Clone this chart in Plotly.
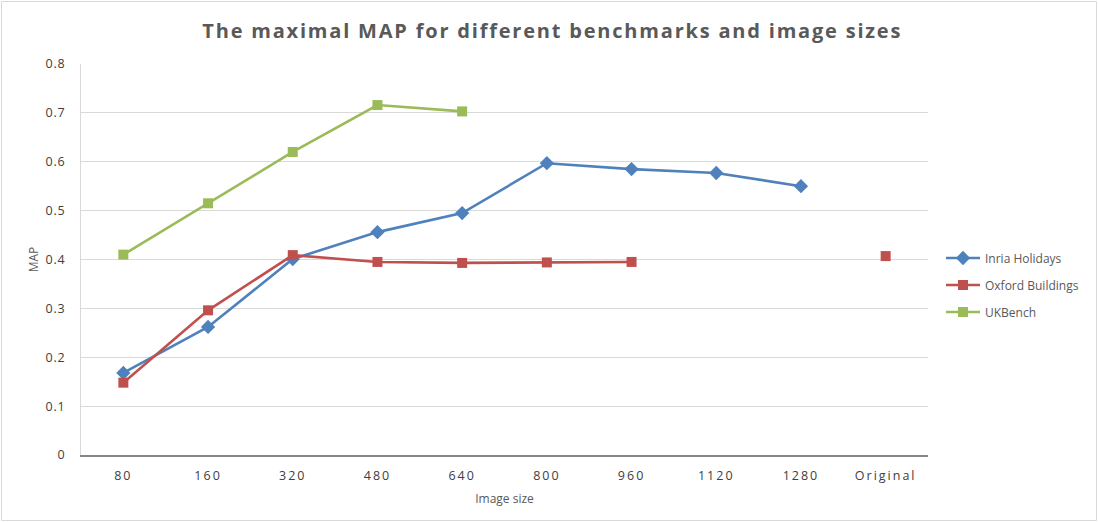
import plotly.graph_objects as go

# Image sizes (category axis) and the maximal MAP for each benchmark
image_sizes = ["80", "160", "320", "480", "640", "800", "960", "1120", "1280", "Original"]
inria_holidays = [0.168, 0.262, 0.401, 0.456, 0.495, 0.597, 0.585, 0.577, 0.550, None]
oxford_buildings = [0.148, 0.296, 0.409, 0.395, 0.393, 0.394, 0.395, None, None, 0.407]
ukbench = [0.410, 0.515, 0.620, 0.716, 0.703, None, None, None, None, None]
y_ticks = [0, 0.1, 0.2, 0.3, 0.4, 0.5, 0.6, 0.7, 0.8]

W, H = 1098, 522
L, R, T, B = 81, 170, 64, 67
pw, ph = W - L - R, H - T - B

text_col = "#595959"
font_main = "Open Sans"

fig = go.Figure()

series = [
    ("Inria Holidays", inria_holidays, "#4F81BD", "diamond", 11),
    ("Oxford Buildings", oxford_buildings, "#C0504D", "square", 10),
    ("UKBench", ukbench, "#9BBB59", "square", 10),
]
for name, vals, col, sym, ms in series:
    fig.add_trace(go.Scatter(
        x=image_sizes, y=vals, name=name, legendgroup=name, mode="lines+markers",
        line=dict(color=col, width=2.6),
        marker=dict(symbol=sym, size=ms, color=col),
        connectgaps=False,
    ))

# light outer frame around the whole chart
fig.add_shape(
    type="rect", xref="paper", yref="paper",
    x0=(1.5 - L) / pw, x1=(W - 1.5 - L) / pw,
    y0=-(H - 1.5 - T - ph) / ph, y1=(T - 1.5) / ph + 1,
    line=dict(color="#D9D9D9", width=1), layer="below",
)

fig.update_layout(
    width=W, height=H,
    margin=dict(l=L, r=R, t=T, b=B),
    paper_bgcolor="white", plot_bgcolor="white",
    title=dict(
        text="The maximal MAP for different benchmarks and image sizes",
        x=0.503, xanchor="center", y=1 - 31 / H, yanchor="middle",
        font=dict(family=font_main, size=20, color=text_col, weight="bold"),
    ),
    legend=dict(
        x=(941 - L) / pw, xanchor="left", y=(455 - 285) / ph, yanchor="middle",
        font=dict(family=font_main, size=12, color=text_col),
        tracegroupgap=8, itemwidth=34, bgcolor="rgba(0,0,0,0)",
    ),
    xaxis=dict(
        type="category", categoryorder="array", categoryarray=image_sizes,
        showgrid=False, showline=True, linecolor="#868686", linewidth=1.5,
        ticks="", tickfont=dict(family=font_main, size=12.5, color="#404040"),
        ticklabelstandoff=8,
        title=dict(text="Image size", font=dict(family=font_main, size=12, color=text_col), standoff=12),
        range=[-0.5, 9.5], zeroline=False,
    ),
    yaxis=dict(
        range=[0, 0.8], tickvals=y_ticks, ticktext=[f"{v:g}" for v in y_ticks],
        showgrid=True, gridcolor="#D9D9D9", gridwidth=1,
        showline=True, linecolor="#D9D9D9", linewidth=1,
        zeroline=False, ticks="",
        tickfont=dict(family=font_main, size=12.5, color="#404040"),
        ticklabelstandoff=12,
        title=dict(text="MAP", font=dict(family=font_main, size=12, color=text_col), standoff=6),
    ),
    showlegend=True,
)

# widen the letter tracking of the title and tick labels
tracking_js = """
var gd = document.getElementById('{plot_id}');
function applyTracking() {
  gd.querySelectorAll('.gtitle').forEach(function (t) { t.style.letterSpacing = '1.8px'; });
  gd.querySelectorAll('.xtick text').forEach(function (t) { t.style.letterSpacing = '2px'; });
  gd.querySelectorAll('.ytick text').forEach(function (t) { t.style.letterSpacing = '0.8px'; });
}
applyTracking();
gd.on('plotly_afterplot', applyTracking);
"""

fig.write_html("out.html", post_script=tracking_js)
